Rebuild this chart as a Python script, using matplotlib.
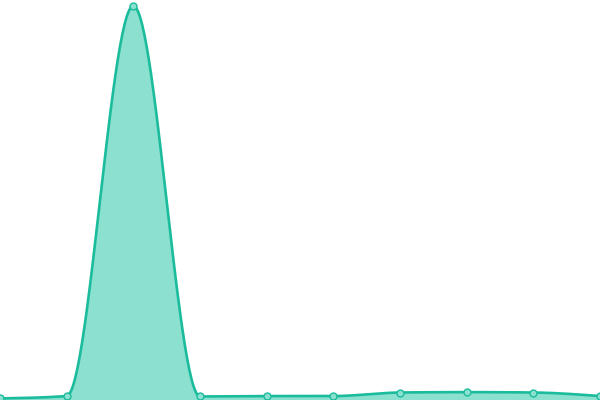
import matplotlib
matplotlib.use("Agg")
import matplotlib.pyplot as plt
import numpy as np

# data (arbitrary units, baseline = 0)
xs = [0, 1, 2, 3, 4, 5, 6, 7, 8, 9]
values = [0.4, 1.0, 100.0, 0.9, 1.0, 1.0, 1.9, 2.0, 1.9, 1.0]

LINE = "#1abc9c"
FILL = "#8be0d0"


def monotone_x(x, y, n=60):
    """Monotone cubic interpolation (like d3.curveMonotoneX)."""
    x = np.asarray(x, float)
    y = np.asarray(y, float)
    h = np.diff(x)
    s = np.diff(y) / h
    t = np.zeros_like(y)
    for i in range(1, len(y) - 1):
        p = (s[i - 1] * h[i] + s[i] * h[i - 1]) / (h[i - 1] + h[i])
        t[i] = (np.sign(s[i - 1]) + np.sign(s[i])) * min(
            abs(s[i - 1]), abs(s[i]), 0.5 * abs(p))
    t[0] = (3 * s[0] - t[1]) / 2
    t[-1] = (3 * s[-1] - t[-2]) / 2
    xo, yo = [], []
    for i in range(len(x) - 1):
        u = np.linspace(0, 1, n, endpoint=False)
        h00 = 2 * u**3 - 3 * u**2 + 1
        h10 = u**3 - 2 * u**2 + u
        h01 = -2 * u**3 + 3 * u**2
        h11 = u**3 - u**2
        xo.extend(x[i] + u * h[i])
        yo.extend(h00 * y[i] + h10 * h[i] * t[i] + h01 * y[i + 1] + h11 * h[i] * t[i + 1])
    xo.append(x[-1])
    yo.append(y[-1])
    return np.array(xo), np.array(yo)


cx, cy = monotone_x(xs, values)

fig = plt.figure(figsize=(6, 4), dpi=100)
ax = fig.add_axes([0, 0, 1, 1])
ax.fill_between(cx, cy, 0, color=FILL, lw=0)
ax.plot(cx, cy, color=LINE, lw=1.9, solid_capstyle="round")
ax.plot(xs, values, "o", ms=5, mfc=FILL, mec=LINE, mew=1.0)
ax.set_xlim(0, 9)
ax.set_ylim(0, 100 * 400 / 394)
ax.axis("off")
fig.savefig("out.png", dpi=100)
